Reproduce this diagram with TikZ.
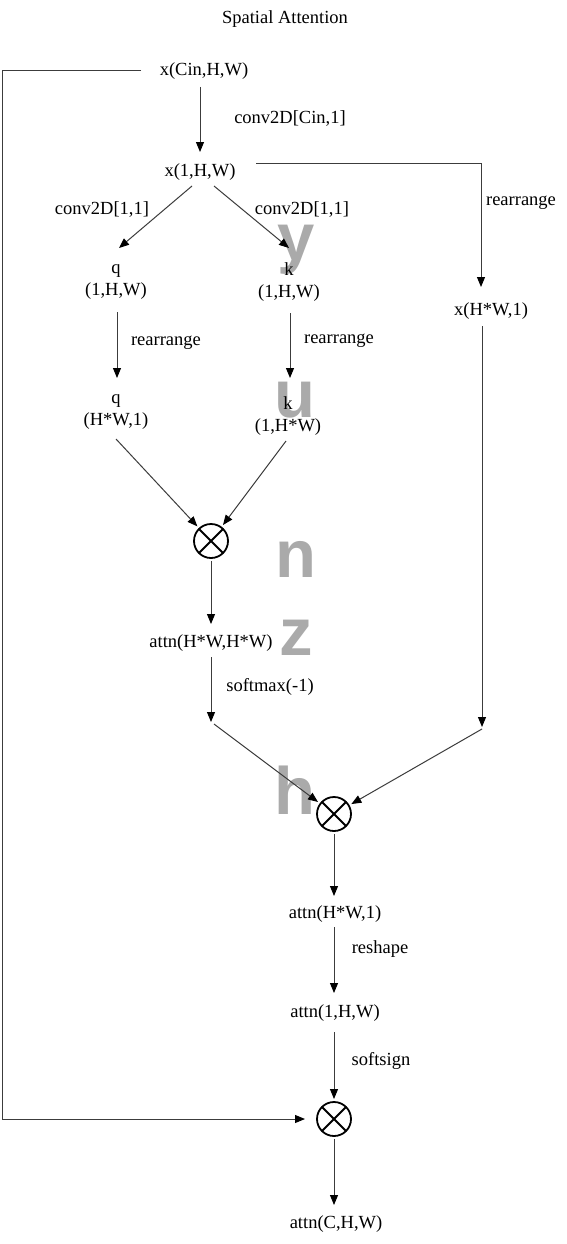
\documentclass[tikz,border=0pt]{standalone}
\usepackage{fontspec}
\setmainfont{Liberation Serif}
\newfontfamily\wmfont{Liberation Sans}
\usetikzlibrary{arrows.meta,calc}
\definecolor{linegray}{RGB}{60,60,60}
\definecolor{wmgray}{RGB}{170,170,170}
\begin{document}
\begin{tikzpicture}[x=1pt,y=-1pt,
  txt/.style={inner sep=0pt,outer sep=0pt,text height=14pt,text depth=3pt,font=\fontsize{18.5}{22}\selectfont},
  txt2/.style={inner sep=0pt,outer sep=0pt,align=center,font=\fontsize{18.5}{22}\selectfont},
  mul/.style={circle,draw=black,line width=1.8pt,minimum size=34pt,inner sep=0pt,outer sep=3pt,
    path picture={\draw[line width=1.8pt]
      ([shift={(45:17pt)}]path picture bounding box.center) -- ([shift={(225:17pt)}]path picture bounding box.center)
      ([shift={(135:17pt)}]path picture bounding box.center) -- ([shift={(315:17pt)}]path picture bounding box.center);}},
  arr/.style={draw=linegray,line width=1pt,-{Triangle[length=10pt,width=8pt,color=black]}},
  wm/.style={text=wmgray,font=\wmfont\bfseries\fontsize{67}{67}\selectfont,inner sep=0pt,anchor=base}
]
\path[use as bounding box,fill=white] (0,0) rectangle (566,1244);

% watermark
\node[wm] (wy) at (296,260) {y};
\node[wm] (wu) at (295,417) {u};
\node[wm] (wn) at (296,577) {n};
\node[wm] (wz) at (296,655) {z};
\node[wm] (wh) at (295,814) {h};

% nodes
\node[txt] (title) at (285,18) {Spatial Attention};
\node[txt] (xcin) at (204,70) {x(Cin,H,W)};
\node[txt] (x1) at (200,171) {x(1,H,W)};
\node[txt] (xhw) at (491,310) {x(H*W,1)};
\node[txt2] (q1) at (116,282) {q\\(1,H,W)};
\node[txt2] (k1) at (289,282) {k\\(1,H,W)};
\node[txt2] (q2) at (116,412) {q\\(H*W,1)};
\node[txt2] (k2) at (288,416) {k\\(1,H*W)};
\node[mul] (m1) at (211,541) {};
\node[txt] (attn1) at (211,642) {attn(H*W,H*W)};
\coordinate (c1) at (211,722);
\coordinate (c2) at (482,727);
\node[mul] (m2) at (334,814) {};
\node[txt] (attn2) at (335,913) {attn(H*W,1)};
\node[txt] (attn3) at (335,1012) {attn(1,H,W)};
\node[mul] (m3) at (334,1119) {};
\node[txt] (attn4) at (336,1223) {attn(C,H,W)};
\coordinate (L1) at (2,71);

% labels
\node[txt] (lconv) at (290,118) {conv2D[Cin,1]};
\node[txt] (lconvq) at (102,209) {conv2D[1,1]};
\node[txt] (lconvk) at (302,209) {conv2D[1,1]};
\node[txt] (lrx) at (521,200) {rearrange};
\node[txt] (lrq) at (166,340) {rearrange};
\node[txt] (lrk) at (339,338) {rearrange};
\node[txt] (lsm) at (270,686) {softmax(-1)};
\node[txt] (lrs) at (380,948) {reshape};
\node[txt] (lss) at (381,1060) {softsign};

% connectors
\draw[arr] ($(xcin)+(-4,17)$) -- ($(x1)+(0,-19)$);
\draw[arr] ($(x1)+(56,-8)$) -| ($(xhw)+(-10,-23)$);
\draw[arr] ($(x1)+(-8,15)$) -- ($(q1)+(3,-34)$);
\draw[arr] ($(x1)+(14,15)$) -- ($(k1)+(0,-34)$);
\draw[arr] ($(q1)+(1,30)$) -- ($(q2)+(1,-34)$);
\draw[arr] ($(k1)+(1,31)$) -- ($(k2)+(2,-38)$);
\draw[arr] ($(q2)+(0,27)$) -- (m1);
\draw[arr] ($(k2)+(-2,25)$) -- (m1);
\draw[arr] (m1) -- ($(attn1)+(0,-18)$);
\draw[arr] ($(attn1)+(0,15)$) -- (c1);
\draw[arr] ($(c1)+(3,2)$) -- (m2);
\draw[arr] ($(xhw)+(-9,16)$) -- (c2);
\draw[arr] ($(c2)+(0,2)$) -- (m2);
\draw[arr] (m2) -- ($(attn2)+(-1,-17)$);
\draw[arr] ($(attn2)+(-1,14)$) -- ($(attn3)+(-1,-19)$);
\draw[arr] ($(attn3)+(-1,20)$) -- (m3);
\draw[arr] (m3) -- ($(attn4)+(-2,-18)$);
\draw[arr,shorten >=9pt] ($(xcin)+(-63,1)$) -- (L1) |- (m3);
\end{tikzpicture}
\end{document}
